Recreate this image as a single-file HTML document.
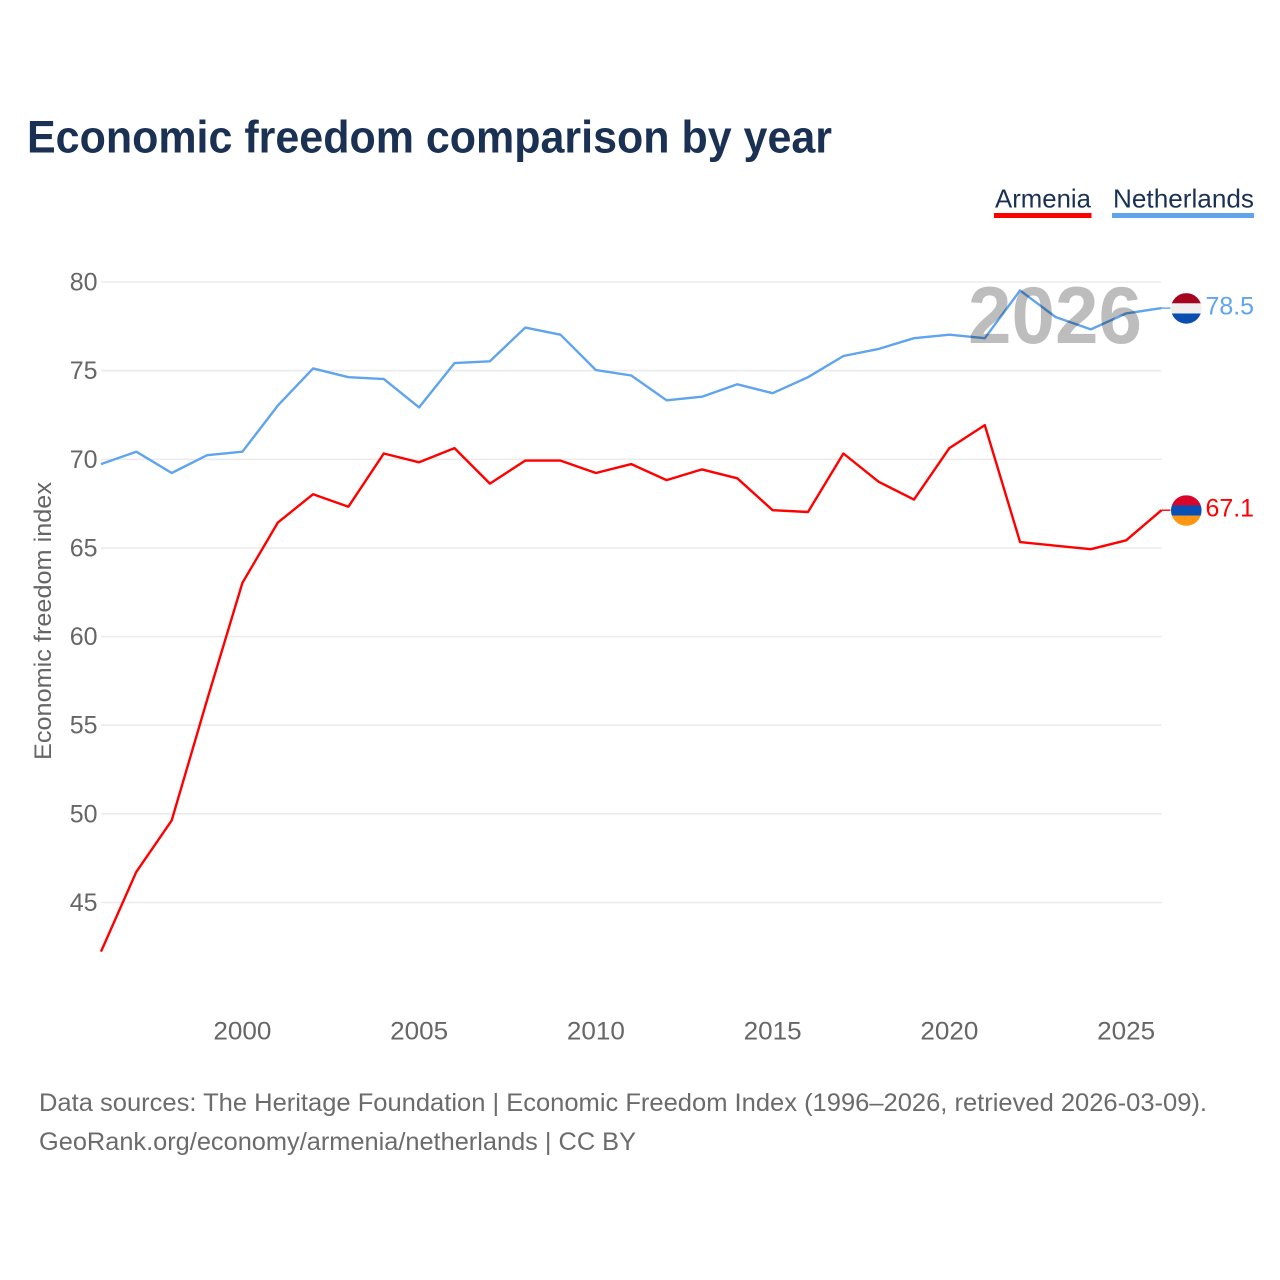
<!DOCTYPE html>
<html lang="en">
<head>
<meta charset="utf-8">
<title>Economic freedom comparison by year</title>
<style>
html,body{margin:0;padding:0;background:#fff;width:1280px;height:1280px;overflow:hidden}
svg{display:block;font-family:"Liberation Sans",sans-serif}
</style>
</head>
<body>
<svg id="chart" width="1280" height="1280" viewBox="0 0 1280 1280" xmlns="http://www.w3.org/2000/svg">
  <rect width="1280" height="1280" fill="#fff"/>
  <text x="27" y="152.5" font-size="45" font-weight="700" fill="#1a3154" textLength="805" lengthAdjust="spacingAndGlyphs">Economic freedom comparison by year</text>

  <g>
    <text x="995" y="207.5" font-size="26" fill="#1a3154" textLength="96" lengthAdjust="spacingAndGlyphs">Armenia</text>
    <rect x="994" y="213" width="97.5" height="5" fill="#ff0000"/>
  </g>
  <g>
    <text x="1113" y="207.5" font-size="26" fill="#1a3154" textLength="141" lengthAdjust="spacingAndGlyphs">Netherlands</text>
    <rect x="1112" y="213" width="142" height="5" fill="#5fa4ec"/>
  </g>

  <g id="grid"></g>
  <g id="yticks"></g>
  <g id="xticks"></g>
  <text transform="translate(51 621) rotate(-90)" text-anchor="middle" font-size="24" fill="#666" textLength="278" lengthAdjust="spacingAndGlyphs">Economic freedom index</text>

  <g id="series" transform="translate(0 -0.5)"></g>

  <text x="968" y="343" font-size="81" font-weight="700" fill="#000" fill-opacity="0.26" textLength="174" lengthAdjust="spacingAndGlyphs">2026</text>

  <g id="endmarks"></g>

  <text x="39" y="1111" font-size="25" fill="#6b6b6b" textLength="1168" lengthAdjust="spacingAndGlyphs">Data sources: The Heritage Foundation | Economic Freedom Index (1996–2026, retrieved 2026-03-09).</text>
  <text x="39" y="1150" font-size="25" fill="#6b6b6b" textLength="597" lengthAdjust="spacingAndGlyphs">GeoRank.org/economy/armenia/netherlands | CC BY</text>
</svg>
<script>
const years = [1996,1997,1998,1999,2000,2001,2002,2003,2004,2005,2006,2007,2008,2009,2010,2011,2012,2013,2014,2015,2016,2017,2018,2019,2020,2021,2022,2023,2024,2025,2026];
const armenia = [42.2,46.7,49.6,56.4,63.0,66.4,68.0,67.3,70.3,69.8,70.6,68.6,69.9,69.9,69.2,69.7,68.8,69.4,68.9,67.1,67.0,70.3,68.7,67.7,70.6,71.9,65.3,65.1,64.9,65.4,67.1];
const netherlands = [69.7,70.4,69.2,70.2,70.4,73.0,75.1,74.6,74.5,72.9,75.4,75.5,77.4,77.0,75.0,74.7,73.3,73.5,74.2,73.7,74.6,75.8,76.2,76.8,77.0,76.8,79.5,78.0,77.3,78.2,78.5];
const yTickValues = [45,50,55,60,65,70,75,80];
const xTickValues = [2000,2005,2010,2015,2020,2025];

const NS = 'http://www.w3.org/2000/svg';
function xScale(year){ return 101 + (year - 1996) * (1161.5 - 101) / 30; }
function yScale(value){ return 282 + (80 - value) * (902.5 - 282) / 35; }
function make(tag, attrs, text){
  const el = document.createElementNS(NS, tag);
  for (const k in attrs) el.setAttribute(k, attrs[k]);
  if (text !== undefined) el.textContent = text;
  return el;
}

const grid = document.getElementById('grid');
const yticks = document.getElementById('yticks');
const xticks = document.getElementById('xticks');
const series = document.getElementById('series');
const endmarks = document.getElementById('endmarks');

yTickValues.forEach(function(v){
  const line = make('line', {x1:101, x2:1161.5, y1:yScale(v), y2:yScale(v), stroke:'#ebebeb', 'stroke-width':1.6});
  
  
  grid.appendChild(line);
  const label = make('text', {x:97.5, y:yScale(v)+8.5, 'text-anchor':'end', 'font-size':25, fill:'#666'}, String(v));
  
  
  yticks.appendChild(label);
});

xTickValues.forEach(function(v){
  const label = make('text', {x:xScale(v), y:1039.5, 'text-anchor':'middle', 'font-size':25, fill:'#666', textLength:58, lengthAdjust:'spacingAndGlyphs'}, String(v));
  
  
  xticks.appendChild(label);
});

function pathFor(values){
  return values.map(function(v,i){ return (i ? 'L' : 'M') + xScale(years[i]).toFixed(1) + ' ' + yScale(v).toFixed(1); }).join(' ');
}

const armeniaLine = make('path', {d:pathFor(armenia), fill:'none', stroke:'#ff0000', 'stroke-width':2.4, 'stroke-linejoin':'round'});


series.appendChild(armeniaLine);

const netherlandsLine = make('path', {d:pathFor(netherlands), fill:'none', stroke:'#5fa4ec', 'stroke-width':2.4, 'stroke-linejoin':'round'});


series.appendChild(netherlandsLine);

function addEnd(values, color, stripes, clipId){
  const last = values[values.length-1];
  const ly = yScale(last);
  const x0 = xScale(years[years.length-1]);
  const conn = make('line', {x1:x0, x2:x0+9, y1:ly-0.5, y2:ly-0.5, stroke:color, 'stroke-width':1.4});
  
  
  endmarks.appendChild(conn);

  const cy = ly - 0.2;
  const cx = 1186.3;
  const r = 15.3;
  const clip = make('clipPath', {id:clipId});
  clip.appendChild(make('circle', {cx:cx, cy:cy, r:r}));
  endmarks.appendChild(clip);
  const flag = make('g', {'clip-path':'url(#'+clipId+')'});
  
  
  stripes.forEach(function(c,i){
    flag.appendChild(make('rect', {x:cx-r, y:cy-r+i*(2*r/3), width:2*r, height:2*r/3+0.2, fill:c}));
  });
  endmarks.appendChild(flag);

  const label = make('text', {x:1205.5, y:ly+6, 'font-size':25, fill:color, textLength:48.5, lengthAdjust:'spacingAndGlyphs'}, last.toFixed(1));
  
  
  endmarks.appendChild(label);
}
addEnd(armenia, '#ff0000', ['#d90429','#0a50b4','#ff9612'], 'clip-am');
addEnd(netherlands, '#5fa4ec', ['#a4051f','#efefef','#0a4fb0'], 'clip-nl');
</script>
</body>
</html>
